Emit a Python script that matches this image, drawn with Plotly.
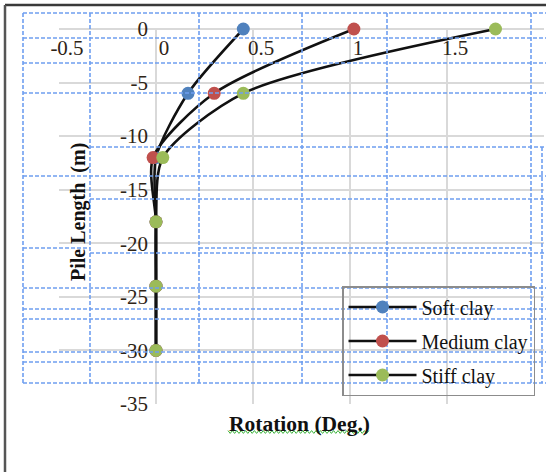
import plotly.graph_objects as go

# Pile head rotation profiles along the pile length
depth = [0, -6, -12, -18, -24, -30]
soft_clay = [0.45, 0.165, 0.0, 0.0, 0.0, 0.0]
medium_clay = [1.02, 0.30, -0.015, 0.0, 0.0, 0.0]
stiff_clay = [1.75, 0.45, 0.035, 0.0, 0.0, 0.0]

series_names = ["Soft clay", "Medium clay", "Stiff clay"]
series_values = [soft_clay, medium_clay, stiff_clay]
series_colors = ["#4f81bd", "#c0504d", "#9bbb59"]

x_ticks = [-0.5, 0, 0.5, 1, 1.5, 2]
y_ticks = [0, -5, -10, -15, -20, -25, -30, -35]

W, H = 546, 472
ML, MR, MT, MB = 59, 2, 29, 68
PW, PH = W - ML - MR, H - MT - MB


def px(x):
    return (x - ML) / PW


def py(y):
    return (H - MB - y) / PH


SERIF = "Liberation Serif"

fig = go.Figure()
for name, vals, col in zip(series_names, series_values, series_colors):
    fig.add_trace(go.Scatter(
        x=vals, y=depth, name=name, mode="lines+markers",
        line=dict(color="#111111", width=2.6, shape="spline", smoothing=0.75),
        marker=dict(color=col, size=13),
        legendgroup=name, cliponaxis=False,
    ))

# table-border style dashed guides around the chart
v_segments = [
    (23, 13, 23, 383), (90, 13, 90, 383), (199, 13, 199, 383),
    (302, 13, 302, 383), (387, 13, 387, 383), (531, 13, 531, 383),
    (542, 147, 542, 383),
]
h_segments = [
    (23, 13, 546, 13), (23, 38, 546, 38), (23, 63, 546, 63), (23, 93, 546, 93),
    (90, 147, 546, 147), (23, 176, 546, 176), (90, 199, 546, 199),
    (23, 248, 90, 248), (199, 248, 531, 248), (90, 253, 546, 253),
    (23, 288, 546, 288), (23, 309, 546, 309), (23, 319, 546, 319),
    (23, 352, 546, 352), (23, 362, 546, 362), (23, 383, 546, 383),
]
shapes = []
for x0, y0, x1, y1 in v_segments + h_segments:
    shapes.append(dict(
        type="line", xref="paper", yref="paper",
        x0=px(x0), y0=py(y0), x1=px(x1), y1=py(y1),
        line=dict(color="#6f9ff0", width=1.6, dash="4px,2px"),
        layer="above",
    ))

# outer frame (top and left edges)
shapes.append(dict(type="line", xref="paper", yref="paper",
                   x0=px(5), y0=py(5), x1=px(546), y1=py(5),
                   line=dict(color="#3a3a3a", width=2.5), layer="above"))
shapes.append(dict(type="line", xref="paper", yref="paper",
                   x0=px(5), y0=py(5), x1=px(5), y1=py(472),
                   line=dict(color="#555555", width=2.5), layer="above"))

# wavy spell-check underline beneath the x-axis title
pts = []
xx, k = 228.0, 0
while xx <= 370:
    yy = 432 + (1.4 if k % 2 else -1.4)
    pts.append(f"{px(xx):.5f},{py(yy):.5f}")
    xx += 2.2
    k += 1
shapes.append(dict(type="path", xref="paper", yref="paper",
                   path="M" + " L".join(pts),
                   line=dict(color="#3bb33b", width=1), layer="above"))

tick_font = dict(family=SERIF, size=21, color="#2e2416")

fig.update_layout(
    width=W, height=H,
    margin=dict(l=ML, r=MR, t=MT, b=MB, pad=0),
    paper_bgcolor="white", plot_bgcolor="white",
    showlegend=True,
    font=dict(family=SERIF, size=19, color="#2e2416"),
    xaxis=dict(
        range=[-0.5, 2], tickvals=x_ticks, ticktext=[str(v) for v in x_ticks],
        anchor="free", position=1, side="bottom",
        showgrid=True, gridcolor="#d9d9d9", gridwidth=1.6,
        zeroline=True, zerolinecolor="#d9d9d9", zerolinewidth=1.6,
        showline=False, ticks="", ticklabelshift=8, ticklabelstandoff=4,
        tickfont=tick_font,
    ),
    yaxis=dict(
        range=[-35, 0], tickvals=y_ticks, ticktext=[str(v) for v in y_ticks],
        anchor="free", position=0.2,
        showgrid=True, gridcolor="#d9d9d9", gridwidth=1.6,
        zeroline=True, zerolinecolor="#d9d9d9", zerolinewidth=1.6,
        showline=False, ticks="", ticklabelstandoff=8,
        tickfont=tick_font,
    ),
    legend=dict(
        x=px(342), y=py(286), xanchor="left", yanchor="top",
        bgcolor="rgba(0,0,0,0)", bordercolor="#8c8c8c", borderwidth=1.5,
        font=dict(family=SERIF, size=20, color="#111111"),
        tracegroupgap=5, itemwidth=68,
    ),
    shapes=shapes,
    annotations=[
        dict(text="<b>Pile Length  (m)</b>", xref="paper", yref="paper",
             x=px(78), y=py(212), xanchor="center", yanchor="middle",
             textangle=-90, showarrow=False,
             font=dict(family=SERIF, size=20, color="#111111")),
        dict(text="<b>Rotation (Deg.)</b>", xref="paper", yref="paper",
             x=px(299), y=py(424), xanchor="center", yanchor="middle",
             showarrow=False,
             font=dict(family=SERIF, size=21.5, color="#111111")),
    ],
)

fig.write_html("out.html")
